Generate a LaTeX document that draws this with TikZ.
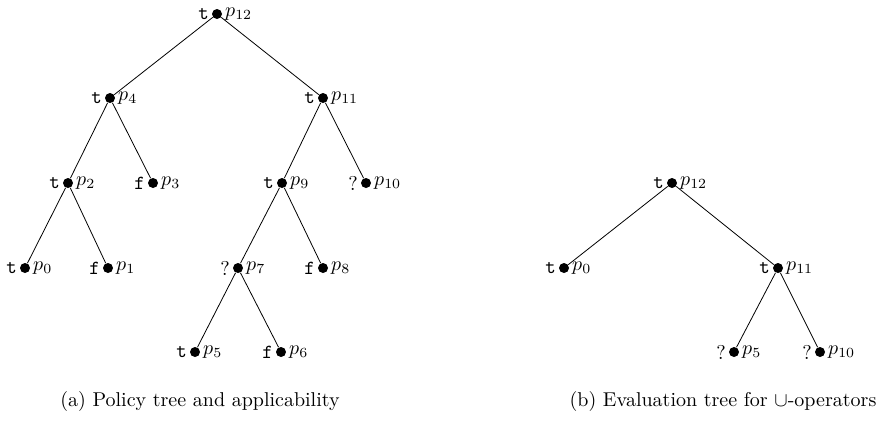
\documentclass[tikz,border=0pt]{standalone}
\usepackage{amssymb}
\begin{document}
\begin{tikzpicture}[x=0.5pt,y=-0.5pt,
  pt/.style={circle,fill=black,inner sep=0pt,minimum size=5pt},
  lab/.style={inner sep=1.2pt},
  edge/.style={line width=0.4pt}]
\useasboundingbox (0,0) rectangle (886,420);
\tikzset{every label/.style={lab}}
% tree (a)
\node[pt,label={left:\texttt{t}},label={right:$p_{12}$}] (a12) at (217,14) {};
\node[pt,label={left:\texttt{t}},label={right:$p_{4}$}] (a4) at (110,98) {};
\node[pt,label={left:\texttt{t}},label={right:$p_{11}$}] (a11) at (323,98) {};
\node[pt,label={left:\texttt{t}},label={right:$p_{2}$}] (a2) at (68,183) {};
\node[pt,label={left:\texttt{f}},label={right:$p_{3}$}] (a3) at (153,183) {};
\node[pt,label={left:\texttt{t}},label={right:$p_{9}$}] (a9) at (282,183) {};
\node[pt,label={left:?},label={right:$p_{10}$}] (a10) at (366,183) {};
\node[pt,label={left:\texttt{t}},label={right:$p_{0}$}] (a0) at (25,268) {};
\node[pt,label={left:\texttt{f}},label={right:$p_{1}$}] (a1) at (108,268) {};
\node[pt,label={left:?},label={right:$p_{7}$}] (a7) at (238,268) {};
\node[pt,label={left:\texttt{f}},label={right:$p_{8}$}] (a8) at (323,268) {};
\node[pt,label={left:\texttt{t}},label={right:$p_{5}$}] (a5) at (195,352) {};
\node[pt,label={left:\texttt{f}},label={right:$p_{6}$}] (a6) at (281,352) {};
\draw[edge] (a12) -- (a4); \draw[edge] (a12) -- (a11);
\draw[edge] (a4) -- (a2); \draw[edge] (a4) -- (a3);
\draw[edge] (a11) -- (a9); \draw[edge] (a11) -- (a10);
\draw[edge] (a2) -- (a0); \draw[edge] (a2) -- (a1);
\draw[edge] (a9) -- (a7); \draw[edge] (a9) -- (a8);
\draw[edge] (a7) -- (a5); \draw[edge] (a7) -- (a6);
% tree (b)
\node[pt,label={left:\texttt{t}},label={right:$p_{12}$}] (b12) at (672,183) {};
\node[pt,label={left:\texttt{t}},label={right:$p_{0}$}] (b0) at (564,268) {};
\node[pt,label={left:\texttt{t}},label={right:$p_{11}$}] (b11) at (778,268) {};
\node[pt,label={left:?},label={right:$p_{5}$}] (b5) at (734,352) {};
\node[pt,label={left:?},label={right:$p_{10}$}] (b10) at (820,352) {};
\draw[edge] (b12) -- (b0); \draw[edge] (b12) -- (b11);
\draw[edge] (b11) -- (b5); \draw[edge] (b11) -- (b10);
% captions
\node (capa) at (200,401) {(a) Policy tree and applicability};
\node (capb) at (723,401) {(b) Evaluation tree for $\cup$-operators};
\end{tikzpicture}
\end{document}
